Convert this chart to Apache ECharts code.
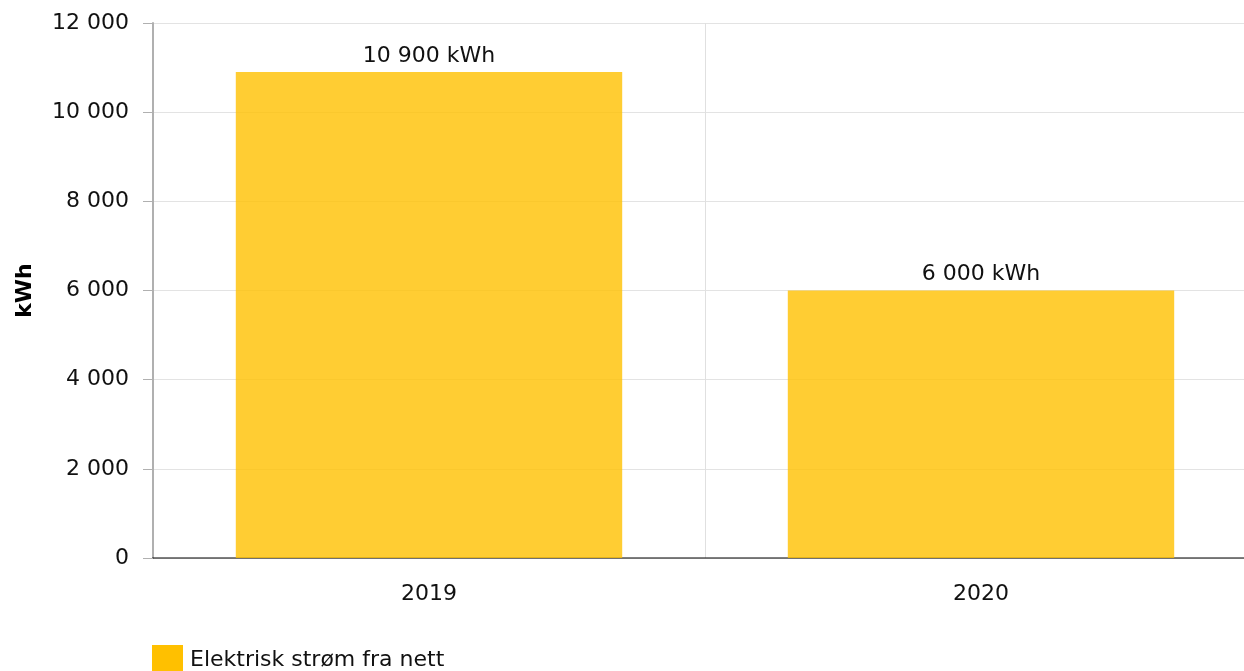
<!DOCTYPE html>
<html>
<head>
<meta charset="utf-8">
<script src="https://cdn.jsdelivr.net/npm/echarts@6/dist/echarts.min.js"></script>
<style>
html, body { margin: 0; padding: 0; background: #fff; }
#chart { width: 1244px; height: 671px; }
</style>
</head>
<body>
<div id="chart"></div>
<script>
// data
const years = ['2019', '2020']
const strom = [10900, 6000]
const seriesName = 'Elektrisk strøm fra nett'

const fmt = v => String(v).replace(/\B(?=(\d{3})+(?!\d))/g, ' ')

const chart = echarts.init(document.getElementById('chart'))

const option = {
    animation: false,
    textStyle: { fontFamily: 'DejaVu Sans', color: '#111' },
    // plot area runs a bit past the right edge of the window
    grid: { left: 153, width: 1104, top: 23, bottom: 113, containLabel: false, outerBoundsMode: 'none' },
    legend: {
        left: 147,
        top: 640,
        icon: 'rect',
        itemWidth: 31,
        itemHeight: 30,
        textStyle: { fontSize: 22, color: '#111', fontFamily: 'DejaVu Sans', padding: [0, 0, 0, 2] },
        data: [{ name: seriesName, itemStyle: { color: '#FFC000' } }]
    },
    xAxis: {
        type: 'category',
        data: years,
        axisLine: { lineStyle: { color: 'rgba(0,0,0,0.5)', width: 2 } },
        axisTick: { alignWithLabel: true, length: 9, lineStyle: { color: '#aaa' } },
        axisLabel: { fontSize: 22, color: '#111', margin: 25 },
        splitLine: { show: true, lineStyle: { color: '#e0e0e0' } }
    },
    yAxis: {
        type: 'value',
        min: 0,
        max: 12000,
        interval: 2000,
        name: 'kWh',
        nameLocation: 'middle',
        nameGap: 117,
        nameTextStyle: { fontSize: 22, fontWeight: 'bold', color: '#000' },
        axisLine: { show: true, lineStyle: { color: '#b0b0b0', width: 2 } },
        axisTick: { show: true, length: 10, lineStyle: { color: '#b0b0b0' } },
        axisLabel: { fontSize: 22, color: '#111', margin: 24, formatter: v => fmt(v) },
        splitLine: { lineStyle: { color: '#e3e3e3' } }
    },
    series: [{
        name: seriesName,
        type: 'bar',
        data: strom,
        barWidth: '70%',
        itemStyle: { color: 'rgba(255,192,0,0.8)' },
        label: {
            show: true,
            position: 'top',
            fontSize: 22,
            color: '#111',
            formatter: p => fmt(p.value) + ' kWh'
        }
    }]
}

chart.setOption(option)
</script>
</body>
</html>
